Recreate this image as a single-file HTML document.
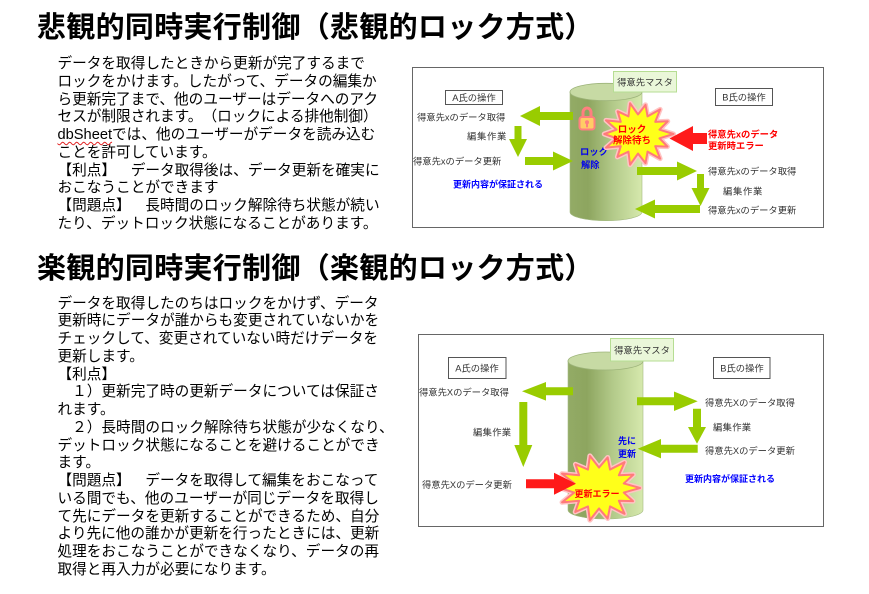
<!DOCTYPE html>
<html><head><meta charset="utf-8">
<style>
html,body{margin:0;padding:0;background:#fff;}
body{width:869px;height:594px;position:relative;overflow:hidden;font-family:"Liberation Sans","Noto Sans CJK JP",sans-serif;color:#000;text-spacing-trim:space-all;}
.h{position:absolute;left:37px;font-size:29px;letter-spacing:0.3px;font-weight:bold;line-height:34px;white-space:nowrap;text-spacing-trim:space-all;}
.t{position:absolute;left:57.5px;font-size:14.65px;line-height:17.75px;white-space:nowrap;text-spacing-trim:space-all;}
.t div{height:17.75px;}
.wavy{text-decoration:underline wavy #e02020;text-decoration-thickness:1px;text-underline-offset:2px;}
svg{position:absolute;left:0;top:0;}
svg text{font-family:"Liberation Sans","Noto Sans CJK JP",sans-serif;}
</style></head><body>

<div class="h" style="top:11px;">悲観的同時実行制御（悲観的ロック方式）</div>
<div class="h" style="top:251.5px;">楽観的同時実行制御（楽観的ロック方式）</div>

<div class="t" style="top:56.1px;">
<div>データを取得したときから更新が完了するまで</div>
<div>ロックをかけます。したがって、データの編集か</div>
<div>ら更新完了まで、他のユーザーはデータへのアク</div>
<div>セスが制限されます。（ロックによる排他制御）</div>
<div><span class="wavy">dbSheet</span>では、他のユーザーがデータを読み込む</div>
<div>ことを許可しています。</div>
<div>【利点】　データ取得後は、データ更新を確実に</div>
<div>おこなうことができます</div>
<div>【問題点】　長時間のロック解除待ち状態が続い</div>
<div>たり、デットロック状態になることがあります。</div>
</div>

<div class="t" style="top:295.6px;">
<div>データを取得したのちはロックをかけず、データ</div>
<div>更新時にデータが誰からも変更されていないかを</div>
<div>チェックして、変更されていない時だけデータを</div>
<div>更新します。</div>
<div>【利点】</div>
<div>　１）更新完了時の更新データについては保証さ</div>
<div>れます。</div>
<div>　２）長時間のロック解除待ち状態が少なくなり、</div>
<div>デットロック状態になることを避けることができ</div>
<div>ます。</div>
<div>【問題点】　データを取得して編集をおこなって</div>
<div>いる間でも、他のユーザーが同じデータを取得し</div>
<div>て先にデータを更新することができるため、自分</div>
<div>より先に他の誰かが更新を行ったときには、更新</div>
<div>処理をおこなうことができなくなり、データの再</div>
<div>取得と再入力が必要になります。</div>
</div>

<svg width="869" height="594" viewBox="0 0 869 594" xmlns="http://www.w3.org/2000/svg">
<defs>
<linearGradient id="cyl" x1="0" y1="0" x2="1" y2="0">
<stop offset="0" stop-color="#93ab66"/>
<stop offset="0.25" stop-color="#8da55f"/>
<stop offset="0.6" stop-color="#b3ca8a"/>
<stop offset="1" stop-color="#d6e9ad"/>
</linearGradient>
</defs>

<!-- ===== TOP DIAGRAM ===== -->
<rect x="412.5" y="67.5" width="411" height="160" fill="#fff" stroke="#666" stroke-width="1"/>
<path d="M570,92 V212 A36,8.7 0 0 0 642,212 V92 Z" fill="url(#cyl)" stroke="#a3b981" stroke-width="0.6"/>
<ellipse cx="606" cy="92" rx="36" ry="8.7" fill="#c7daa4" stroke="#9db47a" stroke-width="0.8"/>
<rect x="613.5" y="71.5" width="63" height="20.5" fill="#eaf7d9" stroke="#b6dd93" stroke-width="1"/>
<text x="645" y="85.4" font-size="9.3" fill="#333" text-anchor="middle">得意先マスタ</text>
<rect x="445.5" y="90.5" width="57" height="14" fill="#fff" stroke="#555" stroke-width="1"/>
<text x="474" y="101" font-size="9.3" fill="#333" text-anchor="middle">A氏の操作</text>
<rect x="715.5" y="88.5" width="57" height="17" fill="#fff" stroke="#555" stroke-width="1"/>
<text x="744" y="100.6" font-size="9.3" fill="#333" text-anchor="middle">B氏の操作</text>
<text x="417" y="120.4" font-size="9.3" fill="#333">得意先xのデータ取得</text>
<text x="467" y="139.4" font-size="9.3" fill="#333" letter-spacing="0.7">編集作業</text>
<text x="413" y="164.4" font-size="9.3" fill="#333">得意先xのデータ更新</text>
<text x="453" y="187.4" font-size="9" fill="#0000ff" font-weight="bold">更新内容が保証される</text>
<text x="708" y="137.4" font-size="9.3" fill="#ff0000" font-weight="bold">得意先xのデータ</text>
<text x="708" y="149.2" font-size="9.3" fill="#ff0000" font-weight="bold">更新時エラー</text>
<text x="708" y="174.4" font-size="9.3" fill="#333">得意先xのデータ取得</text>
<text x="723" y="194.4" font-size="9.3" fill="#333" letter-spacing="0.7">編集作業</text>
<text x="708" y="213.4" font-size="9.3" fill="#333">得意先xのデータ更新</text>
<path d="M583,118 V112.5 A4,4.5 0 0 1 591,112.5 V118" fill="none" stroke="#ff7f7f" stroke-width="3"/>
<rect x="579.5" y="117" width="15" height="12.5" rx="2.5" fill="#ffcc66" stroke="#ff7f7f" stroke-width="2"/>
<circle cx="587" cy="122.3" r="2" fill="#ff7f7f"/>
<rect x="586" y="122.3" width="2" height="5" fill="#ff7f7f"/>
<text x="580" y="155.2" font-size="9.3" fill="#0000ee" font-weight="bold">ロック</text>
<text x="581" y="168" font-size="9.3" fill="#0000ee" font-weight="bold">解除</text>
<g transform="translate(638,134) scale(35.5,31.5)">
<polygon points="1,0 0.6045,0.138 0.829,0.399 0.4847,0.3866 0.6235,0.7818 0.269,0.5586 0.2114,0.926 0,0.62 -0.2225,0.975 -0.269,0.5586 -0.58,0.727 -0.4847,0.3866 -0.901,0.4339 -0.6045,0.138 -0.95,0 -0.6045,-0.138 -0.901,-0.4339 -0.4847,-0.3866 -0.5736,-0.7193 -0.269,-0.5586 -0.2225,-0.975 0,-0.62 0.2114,-0.926 0.269,-0.5586 0.6235,-0.7818 0.4847,-0.3866 0.838,-0.4035 0.6045,-0.138" fill="none" stroke="#ffc4c4" stroke-width="5" vector-effect="non-scaling-stroke" stroke-linejoin="round"/>
<polygon points="1,0 0.6045,0.138 0.829,0.399 0.4847,0.3866 0.6235,0.7818 0.269,0.5586 0.2114,0.926 0,0.62 -0.2225,0.975 -0.269,0.5586 -0.58,0.727 -0.4847,0.3866 -0.901,0.4339 -0.6045,0.138 -0.95,0 -0.6045,-0.138 -0.901,-0.4339 -0.4847,-0.3866 -0.5736,-0.7193 -0.269,-0.5586 -0.2225,-0.975 0,-0.62 0.2114,-0.926 0.269,-0.5586 0.6235,-0.7818 0.4847,-0.3866 0.838,-0.4035 0.6045,-0.138" fill="#ffff1a" stroke="#ff7a7a" stroke-width="2" vector-effect="non-scaling-stroke" stroke-linejoin="round"/>
</g>
<text x="632" y="132.6" font-size="9.5" fill="#ff0000" font-weight="bold" text-anchor="middle">ロック</text>
<text x="632" y="143.6" font-size="9.5" fill="#ff0000" font-weight="bold" text-anchor="middle">解除待ち</text>
<g fill="#99cc00">
<polygon points="573,112 540,112 540,106 520,116 540,126 540,120 573,120"/>
<polygon points="514.5,126 521.5,126 521.5,139 527,139 518,157 509,139 514.5,139"/>
<polygon points="525,157 553,157 553,151.5 573,161 553,170.5 553,165 525,165"/>
<polygon points="637,167 677,167 677,161.5 697,171 677,180.5 677,175 637,175"/>
<polygon points="697,174 704,174 704,188 709.5,188 700.5,206 691.5,188 697,188"/>
<polygon points="700,205 655,205 655,199.5 635,209 655,218.5 655,213 700,213"/>
</g>
<polygon points="707,133 693,133 693,126 669.5,138.5 693,151 693,144 707,144" fill="#ff1a1a"/>

<!-- ===== BOTTOM DIAGRAM ===== -->
<rect x="418.5" y="334.5" width="405" height="192" fill="#fff" stroke="#666" stroke-width="1"/>
<path d="M568,361 V510 A37.5,9 0 0 0 643,510 V361 Z" fill="url(#cyl)" stroke="#a3b981" stroke-width="0.6"/>
<ellipse cx="605.5" cy="361" rx="37.5" ry="9" fill="#c7daa4" stroke="#9db47a" stroke-width="0.8"/>
<rect x="610.5" y="338.5" width="63" height="22.5" fill="#eaf7d9" stroke="#b6dd93" stroke-width="1"/>
<text x="642" y="353.6" font-size="9.3" fill="#333" text-anchor="middle">得意先マスタ</text>
<rect x="448.5" y="357.5" width="57.5" height="21" fill="#fff" stroke="#555" stroke-width="1"/>
<text x="477" y="371.6" font-size="9.3" fill="#333" text-anchor="middle">A氏の操作</text>
<rect x="713.5" y="357.5" width="56.5" height="21" fill="#fff" stroke="#555" stroke-width="1"/>
<text x="742" y="371.6" font-size="9.3" fill="#333" text-anchor="middle">B氏の操作</text>
<text x="419" y="395.6" font-size="9.3" fill="#333">得意先Xのデータ取得</text>
<text x="473" y="435.6" font-size="9.3" fill="#333" letter-spacing="0.3">編集作業</text>
<text x="422" y="488.2" font-size="9.3" fill="#333">得意先Xのデータ更新</text>
<text x="705" y="406.2" font-size="9.3" fill="#333">得意先Xのデータ取得</text>
<text x="713" y="430.6" font-size="9.3" fill="#333" letter-spacing="0.3">編集作業</text>
<text x="705" y="453.9" font-size="9.3" fill="#333">得意先Xのデータ更新</text>
<text x="685" y="482.2" font-size="9" fill="#0000ff" font-weight="bold">更新内容が保証される</text>
<text x="618" y="443.8" font-size="9" fill="#0000ee" font-weight="bold">先に</text>
<text x="618" y="457.2" font-size="9" fill="#0000ee" font-weight="bold">更新</text>
<g transform="translate(599,488) scale(41,33)">
<polygon points="1,0 0.6045,0.138 0.829,0.399 0.4847,0.3866 0.6235,0.7818 0.269,0.5586 0.2114,0.926 0,0.62 -0.2225,0.975 -0.269,0.5586 -0.58,0.727 -0.4847,0.3866 -0.901,0.4339 -0.6045,0.138 -0.95,0 -0.6045,-0.138 -0.901,-0.4339 -0.4847,-0.3866 -0.5736,-0.7193 -0.269,-0.5586 -0.2225,-0.975 0,-0.62 0.2114,-0.926 0.269,-0.5586 0.6235,-0.7818 0.4847,-0.3866 0.838,-0.4035 0.6045,-0.138" fill="none" stroke="#ffc4c4" stroke-width="5" vector-effect="non-scaling-stroke" stroke-linejoin="round"/>
<polygon points="1,0 0.6045,0.138 0.829,0.399 0.4847,0.3866 0.6235,0.7818 0.269,0.5586 0.2114,0.926 0,0.62 -0.2225,0.975 -0.269,0.5586 -0.58,0.727 -0.4847,0.3866 -0.901,0.4339 -0.6045,0.138 -0.95,0 -0.6045,-0.138 -0.901,-0.4339 -0.4847,-0.3866 -0.5736,-0.7193 -0.269,-0.5586 -0.2225,-0.975 0,-0.62 0.2114,-0.926 0.269,-0.5586 0.6235,-0.7818 0.4847,-0.3866 0.838,-0.4035 0.6045,-0.138" fill="#ffff1a" stroke="#ff7a7a" stroke-width="2" vector-effect="non-scaling-stroke" stroke-linejoin="round"/>
</g>
<g fill="#99cc00">
<polygon points="573,387.3 546,387.3 546,382 522,391.3 546,400.6 546,395.3 573,395.3"/>
<polygon points="519.3,402 527.3,402 527.3,445 532.3,445 523.3,467 514.3,445 519.3,445"/>
<polygon points="637,397.3 674,397.3 674,391.5 697.7,401.3 674,411 674,405.3 637,405.3"/>
<polygon points="693,408.7 701,408.7 701,427 706,427 697,443.7 688,427 693,427"/>
<polygon points="697.7,444.7 661,444.7 661,439 637.7,448.7 661,458.4 661,452.7 697.7,452.7"/>
</g>
<polygon points="526,479.2 554,479.2 554,472.7 576,483.7 554,494.7 554,488.2 526,488.2" fill="#ff1a1a"/>
<text x="597" y="497" font-size="9" fill="#ff0000" font-weight="bold" text-anchor="middle">更新エラー</text>
</svg>
</body></html>
